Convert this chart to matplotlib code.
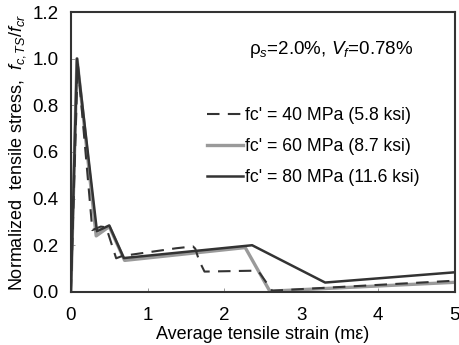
import matplotlib
matplotlib.use("Agg")
import matplotlib.pyplot as plt

plt.rcParams["font.family"] = ["Liberation Sans", "DejaVu Sans"]
plt.rcParams["mathtext.fontset"] = "custom"
plt.rcParams["mathtext.rm"] = "Liberation Sans"
plt.rcParams["mathtext.it"] = "Liberation Sans:italic"

# fc' = 40 MPa
x40 = [0, 0.09, 0.28, 0.39, 0.46, 0.59, 0.67, 1.37, 1.59, 1.62, 1.67, 1.74, 2.42, 2.46, 2.62, 5.0]
y40 = [0, 0.98, 0.265, 0.28, 0.277, 0.144, 0.154, 0.187, 0.195, 0.185, 0.134, 0.087, 0.091, 0.08, 0.005, 0.048]
# fc' = 60 MPa
x60 = [0, 0.08, 0.33, 0.5, 0.7, 2.27, 2.59, 5.0]
y60 = [0, 1.0, 0.24, 0.28, 0.135, 0.19, 0.003, 0.041]
# fc' = 80 MPa
x80 = [0, 0.08, 0.34, 0.5, 0.69, 2.36, 3.31, 5.0]
y80 = [0, 1.0, 0.26, 0.285, 0.145, 0.2, 0.04, 0.084]

labels = ["fc' = 40 MPa (5.8 ksi)", "fc' = 60 MPa (8.7 ksi)", "fc' = 80 MPa (11.6 ksi)"]

fig = plt.figure(figsize=(4.6, 3.45), dpi=100)
ax = fig.add_axes([0.154, 0.154, 0.835, 0.811])

ax.plot(x60, y60, color="#9a9a9a", lw=2.4, label=labels[1], zorder=2)
ax.plot(x80, y80, color="#333333", lw=1.8, label=labels[2], zorder=3)
ax.plot(x40, y40, color="#333333", lw=1.5, dashes=(6, 4), label=labels[0], zorder=4)

ax.set_xlim(0, 5)
ax.set_ylim(0, 1.2)
ax.set_xticks([0, 1, 2, 3, 4, 5])
ax.set_yticks([0, 0.2, 0.4, 0.6, 0.8, 1.0, 1.2])
ax.set_yticklabels(["0.0", "0.2", "0.4", "0.6", "0.8", "1.0", "1.2"])
ax.tick_params(direction="in", length=3, width=0.6, color="#888888", labelsize=13.5)
ax.tick_params(axis="x", pad=11)
ax.tick_params(axis="y", pad=9)
for s in ax.spines.values():
    s.set_linewidth(1.5)
    s.set_color("#333333")

ax.set_xlabel("Average tensile strain (m\u03b5)", fontsize=13, labelpad=1)
ax.set_ylabel("Normalized  tensile stress,  $f_{c,TS}/f_{cr}$", fontsize=13, labelpad=3)

ax.text(0.677, 0.865, "\u03c1$_s$=2.0%, $V_f$=0.78%", transform=ax.transAxes,
        fontsize=13.5, ha="center", va="center")

h, l = ax.get_legend_handles_labels()
order = [2, 0, 1]
ax.legend([h[i] for i in order], [l[i] for i in order], loc="upper left",
          bbox_to_anchor=(0.337, 0.685), frameon=False, fontsize=12.7,
          handlelength=2.0, handletextpad=0.15, labelspacing=0.78, borderaxespad=0)

fig.savefig("out.png", dpi=100)
